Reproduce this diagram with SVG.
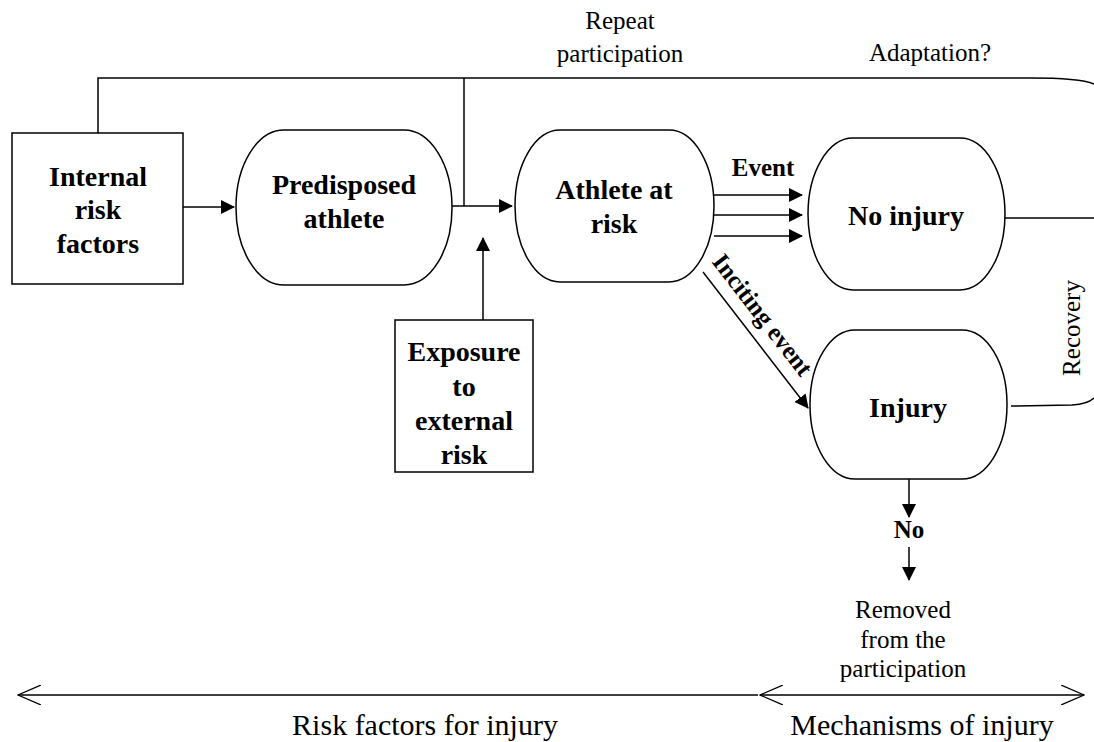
<svg xmlns="http://www.w3.org/2000/svg" width="1094" height="742" viewBox="0 0 1094 742">
<style>
.b{font-family:"Liberation Serif",serif;font-weight:bold;font-size:28px;fill:#000;text-anchor:middle}
.s{font-family:"Liberation Serif",serif;font-weight:bold;font-size:25px;fill:#000;text-anchor:middle}
.n{font-family:"Liberation Serif",serif;font-size:25px;fill:#000;text-anchor:middle}
.l{font-family:"Liberation Serif",serif;font-size:30px;fill:#000;text-anchor:middle}
.box{fill:#fff;stroke:#000;stroke-width:1.5}
.ln{fill:none;stroke:#000;stroke-width:1.5}
</style>
<defs>
<marker id="ah2" markerWidth="14" markerHeight="14" refX="13" refY="7" orient="auto" markerUnits="userSpaceOnUse" viewBox="0 0 14 14"><path d="M0,0 L14,7 L0,14 Z" fill="#000"/></marker>
<marker id="oa" markerWidth="24" markerHeight="20" refX="23" refY="10" orient="auto-start-reverse" markerUnits="userSpaceOnUse" viewBox="0 0 24 20"><path d="M0,0 L23,10 L0,20" fill="none" stroke="#000" stroke-width="1.3"/></marker>
</defs>
<g id="connectors">
<path class="ln" d="M98,133 V78 H1030 Q1080,78 1094,84"/>
<path class="ln" d="M464,78 V206"/>
<path class="ln" d="M183,207 H234" marker-end="url(#ah2)"/>
<path class="ln" d="M452,206 H512" marker-end="url(#ah2)"/>
<path class="ln" d="M483,320 V238" marker-end="url(#ah2)"/>
<path class="ln" d="M714,195 H802" marker-end="url(#ah2)"/>
<path class="ln" d="M714,215 H802" marker-end="url(#ah2)"/>
<path class="ln" d="M714,236 H802" marker-end="url(#ah2)"/>
<path class="ln" d="M703,272 L808,408" marker-end="url(#ah2)"/>
<path class="ln" d="M1005,218 H1094"/>
<path class="ln" d="M1011,406 L1072,405 Q1088,404 1094,398"/>
<path class="ln" d="M909,479 V517" marker-end="url(#ah2)"/>
<path class="ln" d="M909,547 V580" marker-end="url(#ah2)"/>
<path class="ln" d="M758,695 H18" marker-end="url(#oa)"/>
<path class="ln" d="M760,695 H1084" marker-start="url(#oa)" marker-end="url(#oa)"/>
</g>
<g id="internal"><rect class="box" x="12" y="133" width="171" height="151"/>
<text class="b" x="98" y="186">Internal</text><text class="b" x="98" y="219">risk</text><text class="b" x="98" y="253">factors</text></g>
<g id="predisposed"><rect class="box" x="236" y="130" width="216" height="155" rx="48" ry="77"/>
<text class="b" x="344" y="194">Predisposed</text><text class="b" x="344" y="228">athlete</text></g>
<g id="atrisk"><rect class="box" x="515" y="130" width="199" height="152" rx="45" ry="76"/>
<text class="b" x="614" y="199">Athlete at</text><text class="b" x="614" y="233">risk</text></g>
<g id="noinjury"><rect class="box" x="808" y="138" width="197" height="152" rx="45" ry="76"/>
<text class="b" x="906" y="225">No injury</text></g>
<g id="injury"><rect class="box" x="810" y="330" width="197" height="149" rx="45" ry="74"/>
<text class="b" x="908" y="417">Injury</text></g>
<g id="exposure"><rect class="box" x="395" y="320" width="138" height="152"/>
<text class="b" x="464" y="361">Exposure</text><text class="b" x="464" y="396">to</text><text class="b" x="464" y="430">external</text><text class="b" x="464" y="464">risk</text></g>
<g id="labels">
<text class="n" x="620" y="29">Repeat</text>
<text class="n" x="620" y="62">participation</text>
<text class="n" x="930" y="61">Adaptation?</text>
<text class="s" x="763" y="176">Event</text>
<text class="s" transform="translate(756,320) rotate(52.3)">Inciting event</text>
<text class="s" x="909" y="538">No</text>
<text class="n" x="903" y="618">Removed</text>
<text class="n" x="903" y="648">from the</text>
<text class="n" x="903" y="677">participation</text>
<text class="n" transform="translate(1080,328) rotate(-90)">Recovery</text>
<text class="l" x="425" y="735">Risk factors for injury</text>
<text class="l" x="922" y="735">Mechanisms of injury</text>
</g>
</svg>
